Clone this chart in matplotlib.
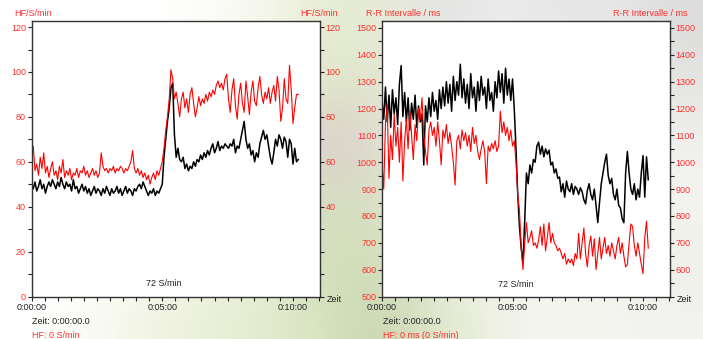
import numpy as np
import matplotlib
matplotlib.use('Agg')
import matplotlib.pyplot as plt
from matplotlib.ticker import MultipleLocator, FixedLocator

plt.rcParams['font.family'] = ['Liberation Sans', 'DejaVu Sans']

# sample times in seconds (one value every 4 s)
zeit = np.arange(0, 613, 4)

# left panel: HF / S/min
hf_black = [50, 48, 51, 47, 49, 52, 48, 50, 46, 49,
            51, 49, 52, 50, 48, 51, 49, 53, 50, 48,
            51, 49, 50, 47, 52, 48, 49, 46, 48, 50,
            47, 49, 46, 48, 45, 47, 49, 46, 48, 47,
            45, 48, 46, 49, 47, 45, 48, 46, 47, 49,
            46, 48, 45, 47, 49, 46, 48, 47, 45, 48,
            47, 49, 50, 48, 51, 49, 47, 45, 47, 46,
            48, 45, 47, 46, 48, 50, 62, 70, 78, 84,
            93, 95, 72, 62, 66, 61, 60, 62, 57, 59,
            56, 58, 57, 60, 58, 61, 60, 63, 61, 64,
            62, 65, 63, 66, 68, 64, 66, 69, 65, 67,
            66, 68, 67, 66, 68, 67, 70, 64, 67, 66,
            70, 74, 78, 70, 66, 68, 63, 65, 60, 64,
            62, 68, 71, 74, 70, 72, 67, 62, 59, 64,
            70, 67, 72, 70, 66, 71, 69, 62, 70, 68,
            59, 66, 60, 61]
hf_red = [60, 67, 56, 59, 54, 62, 57, 64, 55, 58,
          53, 57, 60, 54, 56, 52, 58, 55, 61, 53,
          56, 54, 57, 52, 55, 54, 57, 53, 56, 55,
          58, 54, 56, 53, 55, 57, 54, 56, 53, 55,
          64, 58, 56, 57, 55, 57, 56, 58, 55, 57,
          56, 58, 57, 55, 57, 56, 58, 60, 65, 57,
          55, 57, 54, 56, 53, 55, 52, 54, 50, 53,
          55, 52, 56, 54, 57, 60, 66, 74, 80, 88,
          101, 97, 88, 91, 86, 80, 88, 91, 84, 88,
          82, 90, 93, 86, 80, 84, 89, 85, 88, 86,
          90, 87, 91, 89, 92, 90, 94, 96, 93, 95,
          92, 97, 99, 88, 82, 92, 97, 85, 79, 90,
          95, 86, 82, 96, 89, 81, 91, 96, 87, 85,
          93, 98, 90, 86, 91, 88, 93, 86, 91, 94,
          87, 98, 92, 78, 84, 97, 88, 86, 103, 92,
          77, 84, 90, 90]

# right panel: R-R Intervalle / ms
rr_black = [1230, 1160, 1280, 1150, 1250, 1130, 1270, 1180, 1240, 1140,
            1290, 1360, 1170, 1260, 1150, 1240, 1120, 1220, 1160, 1250,
            1130, 1210, 1150, 1180, 990, 1210, 1150, 1240, 1170, 1260,
            1190, 1230, 1160, 1270, 1200, 1280, 1210, 1300, 1220, 1290,
            1190, 1320, 1230, 1300, 1250, 1365, 1240, 1310, 1220, 1290,
            1200, 1330, 1240, 1280, 1190, 1300, 1230, 1320, 1250, 1280,
            1200, 1310, 1230, 1260, 1190, 1300, 1240, 1340, 1260, 1330,
            1220, 1350, 1250, 1310, 1230, 1310, 1200, 1050, 880, 760,
            680, 625, 780, 960, 920, 990, 960, 1010, 1000, 1060,
            1075, 1030, 1060, 1020, 1050, 1030, 1045, 990, 1000, 960,
            975, 940, 945, 890, 920, 870, 930, 900, 890, 920,
            880, 910, 900, 880, 905, 890, 860, 845, 895, 920,
            880, 860, 900, 840, 775, 850, 920, 960, 1000, 1030,
            950, 920, 940, 880, 860, 900, 840, 830, 790, 775,
            960, 1040, 960, 900, 880, 920, 860, 900, 870, 960,
            1025, 870, 1020, 935]
rr_red = [1000, 900, 1150, 1215, 940, 1100, 1010, 1180, 1060, 1130,
          1000, 1150, 930, 1080, 1160, 1050, 1190, 1100, 1010, 1140,
          1080, 1200, 1160, 1240, 1100, 1040, 990, 1120, 1150, 1100,
          1130, 1060, 1150, 1080, 990, 1120, 1090, 1140, 1070, 1110,
          1060, 1000, 915, 1080, 1100, 1050, 1120, 1080, 1110, 1060,
          1100, 1040, 1130, 1070, 1100, 1040, 1010, 1050, 1080, 1040,
          920, 1060, 1040, 1070, 1050, 1080, 1040, 1060, 1190, 1110,
          1150, 1100, 1130, 1080, 1120, 1060, 1080, 1000, 880, 820,
          680, 600, 700, 775, 700, 720, 745, 690, 700, 680,
          710, 760, 690, 770, 670, 720, 775, 700, 735, 700,
          690, 670, 680, 660, 640, 660, 620, 640, 625, 640,
          615, 660, 640, 735, 640, 700, 755, 660, 610, 690,
          725, 650, 715, 600, 660, 720, 640, 680, 720, 660,
          690, 650, 700, 670, 640, 690, 720, 660, 700, 650,
          610, 620, 700, 770, 760, 690, 650, 700, 660, 620,
          585, 720, 780, 680]

red = '#ff0000'
txtred = '#ff3030'
fs = 6.5

fig = plt.figure(figsize=(7.03, 3.39), dpi=100)

# blurred photo behind the charts, rough colour grid
bg = np.array([
    ['#ffffff', '#ffffff', '#ffffff', '#fdfdfb', '#f6f8ee', '#e6ecd0', '#e8edd8', '#e2e2e2', '#ececec', '#e6e6e6', '#e8e8e8', '#dcdcdc'],
    ['#ffffff', '#ffffff', '#ffffff', '#fbfcf6', '#f0f4e2', '#dde6c4', '#e0e6cc', '#eeeeee', '#f2f2f2', '#f0f0f0', '#eeeeee', '#e4e4e0'],
    ['#ffffff', '#ffffff', '#ffffff', '#fbfcf6', '#eceadc', '#d8c8cc', '#e0dcd0', '#f4f4f4', '#f6f6f6', '#f4f4f4', '#f2f2f2', '#f0f0ee'],
    ['#ffffff', '#ffffff', '#ffffff', '#fafbf2', '#e8eed8', '#d4dcc0', '#d8e0c0', '#f4f4f0', '#f6f6f2', '#f6f6f2', '#f4f4f0', '#f4f4f0'],
    ['#ffffff', '#ffffff', '#fbfcf6', '#f2f6e4', '#e6eed4', '#d0dcb8', '#d4e0bc', '#e8eedc', '#f2f2ea', '#f6f6f2', '#f2f2ec', '#eef0e8'],
    ['#ffffff', '#fbfbf6', '#f2f4e4', '#eaf0d8', '#e4ecd0', '#d8e4c0', '#c8d4b0', '#e0e8cc', '#f0f2e8', '#f6f6f0', '#f4f4f0', '#f2f2ee'],
])
bg_rgb = np.array([[matplotlib.colors.to_rgb(c) for c in row] for row in bg])
axbg = fig.add_axes([0, 0, 1, 1], zorder=-10)
axbg.imshow(bg_rgb, aspect='auto', interpolation='bicubic', extent=[0, 1, 0, 1])
axbg.axis('off')


def setup(ax, ymin, ymax, ytop, major, minor, right_labels, ylabel, zlabel, hf_text, x0):
    ax.set_xlim(0, 662)
    ax.set_ylim(ymin, ytop)
    ax.set_facecolor('white')
    for s in ax.spines.values():
        s.set_color('#333333')
        s.set_linewidth(1.0)
    ax.xaxis.set_major_locator(FixedLocator([0, 300, 600]))
    ax.set_xticklabels(['0:00:00', '0:05:00', '0:10:00'])
    ax.xaxis.set_minor_locator(MultipleLocator(30))
    ax.yaxis.set_major_locator(MultipleLocator(major))
    ax.yaxis.set_minor_locator(MultipleLocator(minor))
    ax.set_yticks(np.arange(ymin, ymax + 1, major))
    ax.tick_params(axis='x', which='both', direction='out', length=3, width=0.8,
                   labelsize=fs, pad=2, colors='#222222')
    ax.tick_params(axis='y', which='both', direction='out', length=3, width=0.8,
                   labelsize=fs, pad=1, color='#222222', labelcolor=txtred)
    ax2 = ax.twinx()
    ax2.set_ylim(ymin, ytop)
    ax2.set_yticks(np.arange(ymin, ymax + 1, major))
    ax2.set_yticklabels([str(v) if v in right_labels else '' for v in np.arange(ymin, ymax + 1, major)])
    ax2.yaxis.set_minor_locator(MultipleLocator(minor))
    ax2.tick_params(axis='y', which='both', direction='out', length=3, width=0.8,
                    labelsize=fs, pad=1, color='#222222', labelcolor=txtred)
    for s in ax2.spines.values():
        s.set_visible(False)
    pos = ax.get_position()
    fig.text(x0[0] / 703, 1 - 13 / 339, ylabel, color=txtred, fontsize=fs, va='center')
    fig.text(x0[1] / 703, 1 - 13 / 339, ylabel, color=txtred, fontsize=fs, va='center')
    fig.text(pos.x1 + 7 / 703, 1 - 299 / 339, 'Zeit', color='#222222', fontsize=fs, va='center')
    fig.text(pos.x0 + 1 / 703, 1 - 321 / 339, zlabel, color='#222222', fontsize=fs, va='center')
    fig.text(pos.x0 + 1 / 703, 1 - 335 / 339, hf_text, color=txtred, fontsize=fs, va='center')
    return ax2


ax0 = fig.add_axes([31.5 / 703, 1 - 296.5 / 339, 288.5 / 703, 275.5 / 339])
ax0.plot(zeit, hf_black, color='black', lw=1.1)
ax0.plot(zeit, hf_red, color=red, lw=0.8)
setup(ax0, 0, 120, 122.7, 20, 10, [40, 60, 80, 100, 120], 'HF/S/min',
      'Zeit: 0:00:00.0', 'HF: 0 S/min', (14, 300))
ax0.text(303, 5.8, '72 S/min', fontsize=fs, ha='center', va='center', color='#222222')

ax1 = fig.add_axes([382 / 703, 1 - 296.5 / 339, 288 / 703, 275.5 / 339])
ax1.plot(zeit, rr_black, color='black', lw=1.1)
ax1.plot(zeit, rr_red, color=red, lw=0.8)
setup(ax1, 500, 1500, 1526, 100, 50, list(range(600, 1501, 100)), 'R-R Intervalle / ms',
      'Zeit: 0:00:00.0', 'HF: 0 ms (0 S/min)', (366, 613))
ax1.text(307, 545, '72 S/min', fontsize=fs, ha='center', va='center', color='#222222')

fig.savefig('out.png', dpi=100)
